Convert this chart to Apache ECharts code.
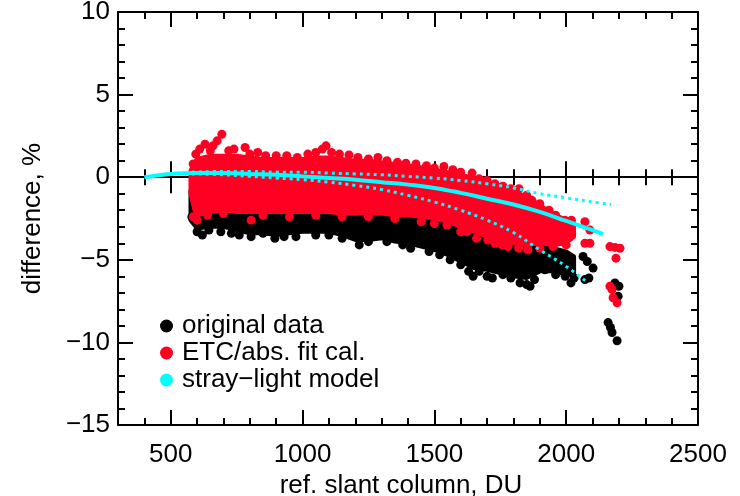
<!DOCTYPE html>
<html>
<head>
<meta charset="utf-8">
<script src="https://cdn.jsdelivr.net/npm/echarts@6/dist/echarts.min.js"></script>
<style>
  html, body { margin: 0; padding: 0; background: #fff; }
  #chart { width: 740px; height: 496px; }
</style>
</head>
<body>
<div id="chart"></div>
<script>
// Axis ticks and labels
const xMajorTicks = [500, 1000, 1500, 2000, 2500];
const yRange = [-15, 10];
const xRange = [300, 2500];

// Dense core of the original (uncorrected) data: top and bottom edges per column
const blackBandX = [575, 600, 650, 700, 750, 800, 850, 900, 950, 1000, 1050, 1100, 1150, 1200, 1250, 1300, 1350, 1400, 1450, 1500, 1550, 1600, 1650, 1700, 1750, 1800, 1850, 1900, 1950, 2000, 2030];
const blackBandTop = [-0.8, -1.0, -1.0, -1.0, -1.0, -1.0, -1.0, -1.0, -1.0, -1.0, -1.0, -1.0, -1.0, -1.0, -1.0, -1.0, -1.0, -1.0, -1.0, -1.0, -1.0, -1.0, -1.0, -2.0, -2.5, -3.0, -3.4, -3.8, -4.3, -4.5, -4.8];
const blackBandBottom = [-2.6, -3.1, -3.0, -3.0, -3.2, -3.4, -3.4, -3.5, -3.4, -3.3, -3.3, -3.3, -3.5, -3.8, -3.8, -3.7, -3.9, -4.0, -4.2, -4.4, -4.7, -5.1, -5.5, -5.6, -5.8, -6.0, -6.1, -5.7, -5.7, -5.9, -5.9];

// Individual original-data points along the cloud edge and the sparse high-column tail
const blackDots = [
  [580, -2.4], [600, -3.3], [620, -3.5], [645, -3.2], [690, -3.3], [730, -3.4], [760, -3.5], [805, -3.6],
  [850, -3.4], [895, -3.7], [930, -3.6], [975, -3.6], [1050, -3.5], [1100, -3.5], [1150, -3.7], [1215, -4.1],
  [1250, -3.9], [1320, -3.9], [1380, -4.1], [1410, -4.3], [1480, -4.5], [1520, -4.7], [1560, -5.0], [1600, -5.3],
  [1630, -5.7], [1647, -6.0], [1670, -5.7], [1700, -6.0], [1720, -6.1], [1760, -5.9], [1790, -6.1], [1825, -6.4],
  [1850, -6.5], [1863, -6.6], [1880, -6.2], [1920, -5.6], [1960, -5.9], [1996, -6.0], [2018, -6.4], [2030, -6.1],
  [1940, -4.6], [1990, -4.8], [2064, -4.8], [2080, -5.1], [2102, -5.5], [2071, -6.2], [2086, -6.1],
  [2185, -6.4], [2200, -6.6], [2197, -7.2], [2159, -8.8], [2168, -9.1], [2174, -9.4], [2193, -9.9]
];

// Dense core of the ETC/absolute-fit calibrated data
const redBandX = [575, 590, 600, 650, 700, 750, 800, 850, 900, 950, 1000, 1050, 1100, 1150, 1200, 1250, 1300, 1350, 1400, 1450, 1500, 1550, 1600, 1650, 1700, 1750, 1800, 1850, 1900, 1950, 2000, 2030];
const redBandTop = [0.4, 0.9, 1.1, 1.3, 1.3, 1.3, 1.2, 1.1, 1.1, 1.1, 1.1, 1.2, 1.2, 1.1, 1.0, 1.0, 0.9, 0.8, 0.7, 0.6, 0.45, 0.3, 0.15, -0.05, -0.3, -0.5, -0.8, -1.2, -1.7, -2.2, -2.6, -2.8];
const redBandBottom = [-1.0, -2.0, -2.3, -2.1, -2.0, -2.1, -2.1, -2.1, -2.1, -2.1, -2.1, -2.1, -2.1, -2.2, -2.2, -2.2, -2.2, -2.3, -2.3, -2.4, -2.5, -2.7, -3.0, -3.3, -3.6, -3.9, -4.0, -4.1, -4.0, -4.1, -4.0, -3.6];

// Individual calibrated points along the cloud edge and the sparse tail
const redDots = [
  [585, 0.8], [595, 1.4], [610, 1.7], [630, 2.0], [650, 1.6], [660, 1.9], [676, 2.2], [694, 2.6], [720, 1.6],
  [740, 1.7], [782, 1.8], [800, 1.4], [830, 1.5], [860, 1.3], [900, 1.3], [940, 1.3], [980, 1.2], [1020, 1.4],
  [1050, 1.5], [1075, 1.7], [1089, 1.9], [1110, 1.5], [1140, 1.4], [1176, 1.35], [1210, 1.2], [1250, 1.1],
  [1286, 1.2], [1320, 1.0], [1360, 0.9], [1392, 0.85], [1430, 0.8], [1470, 0.7], [1500, 0.55], [1536, 0.65],
  [1570, 0.45], [1600, 0.3], [1643, 0.25], [1670, -0.1], [1700, -0.2], [1730, -0.4], [1760, -0.55], [1790, -0.7],
  [1821, -0.7], [1850, -1.1], [1870, -1.4], [1900, -1.6], [1935, -2.0], [1960, -2.3], [1995, -2.6], [2020, -2.6],
  [585, -2.4], [600, -2.6], [640, -2.3], [700, -2.2], [805, -2.6], [850, -2.3], [950, -2.4], [1050, -2.3],
  [1150, -2.4], [1250, -2.4], [1350, -2.5], [1450, -2.7], [1500, -2.8], [1548, -2.9], [1600, -3.3], [1624, -3.3],
  [1660, -3.7], [1703, -3.8], [1730, -4.0], [1757, -4.1], [1779, -4.2], [1820, -4.3], [1855, -4.4], [1900, -4.3],
  [1950, -4.2], [2000, -4.1],
  [2071, -2.7], [2090, -3.2], [2071, -4.0], [2090, -4.0], [2166, -4.2], [2185, -4.25], [2204, -4.3], [2189, -4.9],
  [2166, -6.6], [2174, -6.8], [2178, -7.3], [2193, -7.6]
];

// Stray-light model: central curve and its two bounding curves
const modelX = [400, 500, 600, 700, 800, 900, 1000, 1100, 1200, 1300, 1400, 1500, 1600, 1700, 1800, 1900, 2000, 2100, 2140];
const modelMid = [0.0, 0.2, 0.25, 0.25, 0.2, 0.15, 0.05, -0.05, -0.15, -0.3, -0.45, -0.65, -0.95, -1.3, -1.65, -2.1, -2.65, -3.2, -3.45];
const modelUpperX = [580, 700, 800, 900, 1000, 1100, 1200, 1300, 1400, 1500, 1600, 1700, 1800, 1900, 2000, 2100, 2170];
const modelUpper = [0.3, 0.35, 0.35, 0.3, 0.3, 0.25, 0.2, 0.15, 0.05, -0.05, -0.2, -0.4, -0.65, -1.0, -1.25, -1.5, -1.65];
const modelLowerX = [580, 700, 800, 900, 1000, 1100, 1200, 1300, 1400, 1500, 1600, 1700, 1800, 1900, 2000, 2075];
const modelLower = [0.2, 0.15, 0.05, -0.05, -0.15, -0.3, -0.5, -0.75, -1.1, -1.5, -2.0, -2.6, -3.35, -4.4, -5.4, -6.3];

const FONT = 'Liberation Sans, Arial, Helvetica, sans-serif';
const FONT_SIZE = 26;
const BLACK = '#000000';
const RED = '#ff0022';
const CYAN = '#00ffff';
const minorX = [];
for (let v = xRange[0]; v <= xRange[1]; v += 100) if (v % 500 !== 0) minorX.push(v);

const pairs = (xs, ys) => xs.map((x, i) => [x, ys[i]]);
const minusSign = v => String(v).replace('-', '\u2212');

// Closed outline: top edge left-to-right, bottom edge right-to-left
function bandOutline(xs, top, bottom) {
  const pts = pairs(xs, top);
  for (let i = xs.length - 1; i >= 0; i--) pts.push([xs[i], bottom[i]]);
  return pts;
}

function bandSeries(name, xs, top, bottom, color) {
  const outline = bandOutline(xs, top, bottom);
  return {
    name: name,
    type: 'custom',
    coordinateSystem: 'cartesian2d',
    xAxisIndex: 0, yAxisIndex: 0,
    itemStyle: { color: color, opacity: 1 },
    data: outline,
    encode: { x: 0, y: 1 },
    silent: true,
    renderItem: function (params, api) {
      if (params.dataIndex !== 0) return null;
      return {
        type: 'polygon',
        shape: { points: outline.map(p => api.coord(p)) },
        style: { fill: color, stroke: color, lineWidth: 4, lineJoin: 'round', opacity: 1 }
      };
    }
  };
}

// One x axis layer; several layers are stacked to get long/short ticks at the box and on the zero line
function xLayer(opts) {
  return Object.assign({
    type: 'value', min: xRange[0], max: xRange[1], interval: 100,
    gridIndex: 0,
    splitLine: { show: false },
    axisLine: { show: false, onZero: false, lineStyle: { color: BLACK, width: 2 } },
    axisLabel: { show: false },
    axisTick: { show: false }
  }, opts);
}

const tickStyle = { color: BLACK, width: 2 };

const xAxes = [
  // bottom frame
  xLayer({ position: 'bottom', axisLine: { show: true, onZero: false, lineStyle: { color: BLACK, width: 2 } },
    axisTick: { show: true, inside: true, length: 7, customValues: minorX, lineStyle: tickStyle } }),
  xLayer({ position: 'bottom', name: 'ref. slant column, DU', nameLocation: 'middle', nameGap: 43,
    nameTextStyle: { fontSize: FONT_SIZE, fontFamily: FONT, color: BLACK, padding: [0, 14, 0, 0] },
    axisTick: { show: true, inside: true, length: 15, customValues: xMajorTicks, lineStyle: tickStyle },
    axisLabel: { show: true, customValues: xMajorTicks, margin: 17, fontSize: FONT_SIZE, fontFamily: FONT, color: BLACK,
      formatter: v => String(v) } }),
  // top frame
  xLayer({ position: 'top', axisLine: { show: true, onZero: false, lineStyle: { color: BLACK, width: 2 } },
    axisTick: { show: true, inside: true, length: 7, customValues: minorX, lineStyle: tickStyle } }),
  xLayer({ position: 'top',
    axisTick: { show: true, inside: true, length: 15, customValues: xMajorTicks, lineStyle: tickStyle } }),
  // zero line, ticks pointing up
  xLayer({ position: 'bottom', axisLine: { show: true, onZero: true, onZeroAxisIndex: 0, lineStyle: { color: BLACK, width: 2 } },
    axisTick: { show: true, inside: true, length: 8, customValues: minorX, lineStyle: tickStyle } }),
  xLayer({ position: 'bottom', axisLine: { show: false, onZero: true, onZeroAxisIndex: 0 },
    axisTick: { show: true, inside: true, length: 16, customValues: xMajorTicks, lineStyle: tickStyle } }),
  // zero line, ticks pointing down
  xLayer({ position: 'top', axisLine: { show: false, onZero: true, onZeroAxisIndex: 0 },
    axisTick: { show: true, inside: true, length: 8, customValues: minorX, lineStyle: tickStyle } }),
  xLayer({ position: 'top', axisLine: { show: false, onZero: true, onZeroAxisIndex: 0 },
    axisTick: { show: true, inside: true, length: 16, customValues: xMajorTicks, lineStyle: tickStyle } })
];

function yLayer(opts) {
  return Object.assign({
    type: 'value', min: yRange[0], max: yRange[1], interval: 5,
    splitLine: { show: false },
    axisLine: { show: true, onZero: false, lineStyle: { color: BLACK, width: 2 } },
    axisTick: { show: true, inside: true, length: 15, lineStyle: tickStyle },
    minorTick: { show: true, splitNumber: 5, length: 7, lineStyle: tickStyle },
    axisLabel: { show: false }
  }, opts);
}

const yAxes = [
  yLayer({ position: 'left', name: 'difference, %', nameLocation: 'middle', nameGap: 72,
    nameTextStyle: { fontSize: FONT_SIZE, fontFamily: FONT, color: BLACK },
    axisLabel: { show: true, margin: 8, fontSize: FONT_SIZE, fontFamily: FONT, color: BLACK, formatter: minusSign } }),
  yLayer({ position: 'right' })
];

const lineBase = {
  type: 'line', xAxisIndex: 0, yAxisIndex: 0, showSymbol: false, symbol: 'none',
  smooth: 0.4, silent: true, itemStyle: { color: CYAN }, z: 5
};

const dotStyle = color => ({ color: color, opacity: 1 });

const option = {
  animation: false,
  backgroundColor: '#ffffff',
  grid: { left: 118, right: 42, top: 12, bottom: 71, containLabel: false, outerBoundsMode: 'none' },
  legend: {
    orient: 'vertical', left: 155, top: 308, itemGap: 1, itemWidth: 13, itemHeight: 13,
    selectedMode: false,
    itemStyle: { opacity: 1 },
    textStyle: { fontSize: FONT_SIZE, fontFamily: FONT, color: BLACK, lineHeight: 26, padding: [0, 0, 0, 4] },
    data: [
      { name: 'original data', icon: 'circle' },
      { name: 'ETC/abs. fit cal.', icon: 'circle' },
      { name: 'stray\u2212light model', icon: 'circle' }
    ]
  },
  xAxis: xAxes,
  yAxis: yAxes,
  series: [
    { name: 'original data', type: 'scatter', data: blackDots, symbolSize: 9,
      itemStyle: dotStyle(BLACK), silent: true },
    bandSeries('original data', blackBandX, blackBandTop, blackBandBottom, BLACK),
    { name: 'ETC/abs. fit cal.', type: 'scatter', data: redDots, symbolSize: 9,
      itemStyle: dotStyle(RED), silent: true },
    bandSeries('ETC/abs. fit cal.', redBandX, redBandTop, redBandBottom, RED),
    Object.assign({}, lineBase, { name: 'stray\u2212light model', data: pairs(modelX, modelMid),
      lineStyle: { color: CYAN, width: 4 } }),
    Object.assign({}, lineBase, { name: 'stray\u2212light model', data: pairs(modelUpperX, modelUpper),
      lineStyle: { color: CYAN, width: 3, type: [3, 4] } }),
    Object.assign({}, lineBase, { name: 'stray\u2212light model', data: pairs(modelLowerX, modelLower),
      lineStyle: { color: CYAN, width: 3, type: [3, 4] } })
  ]
};

const chart = echarts.init(document.getElementById('chart'), null, { renderer: 'canvas' });
chart.setOption(option);
</script>
</body>
</html>
